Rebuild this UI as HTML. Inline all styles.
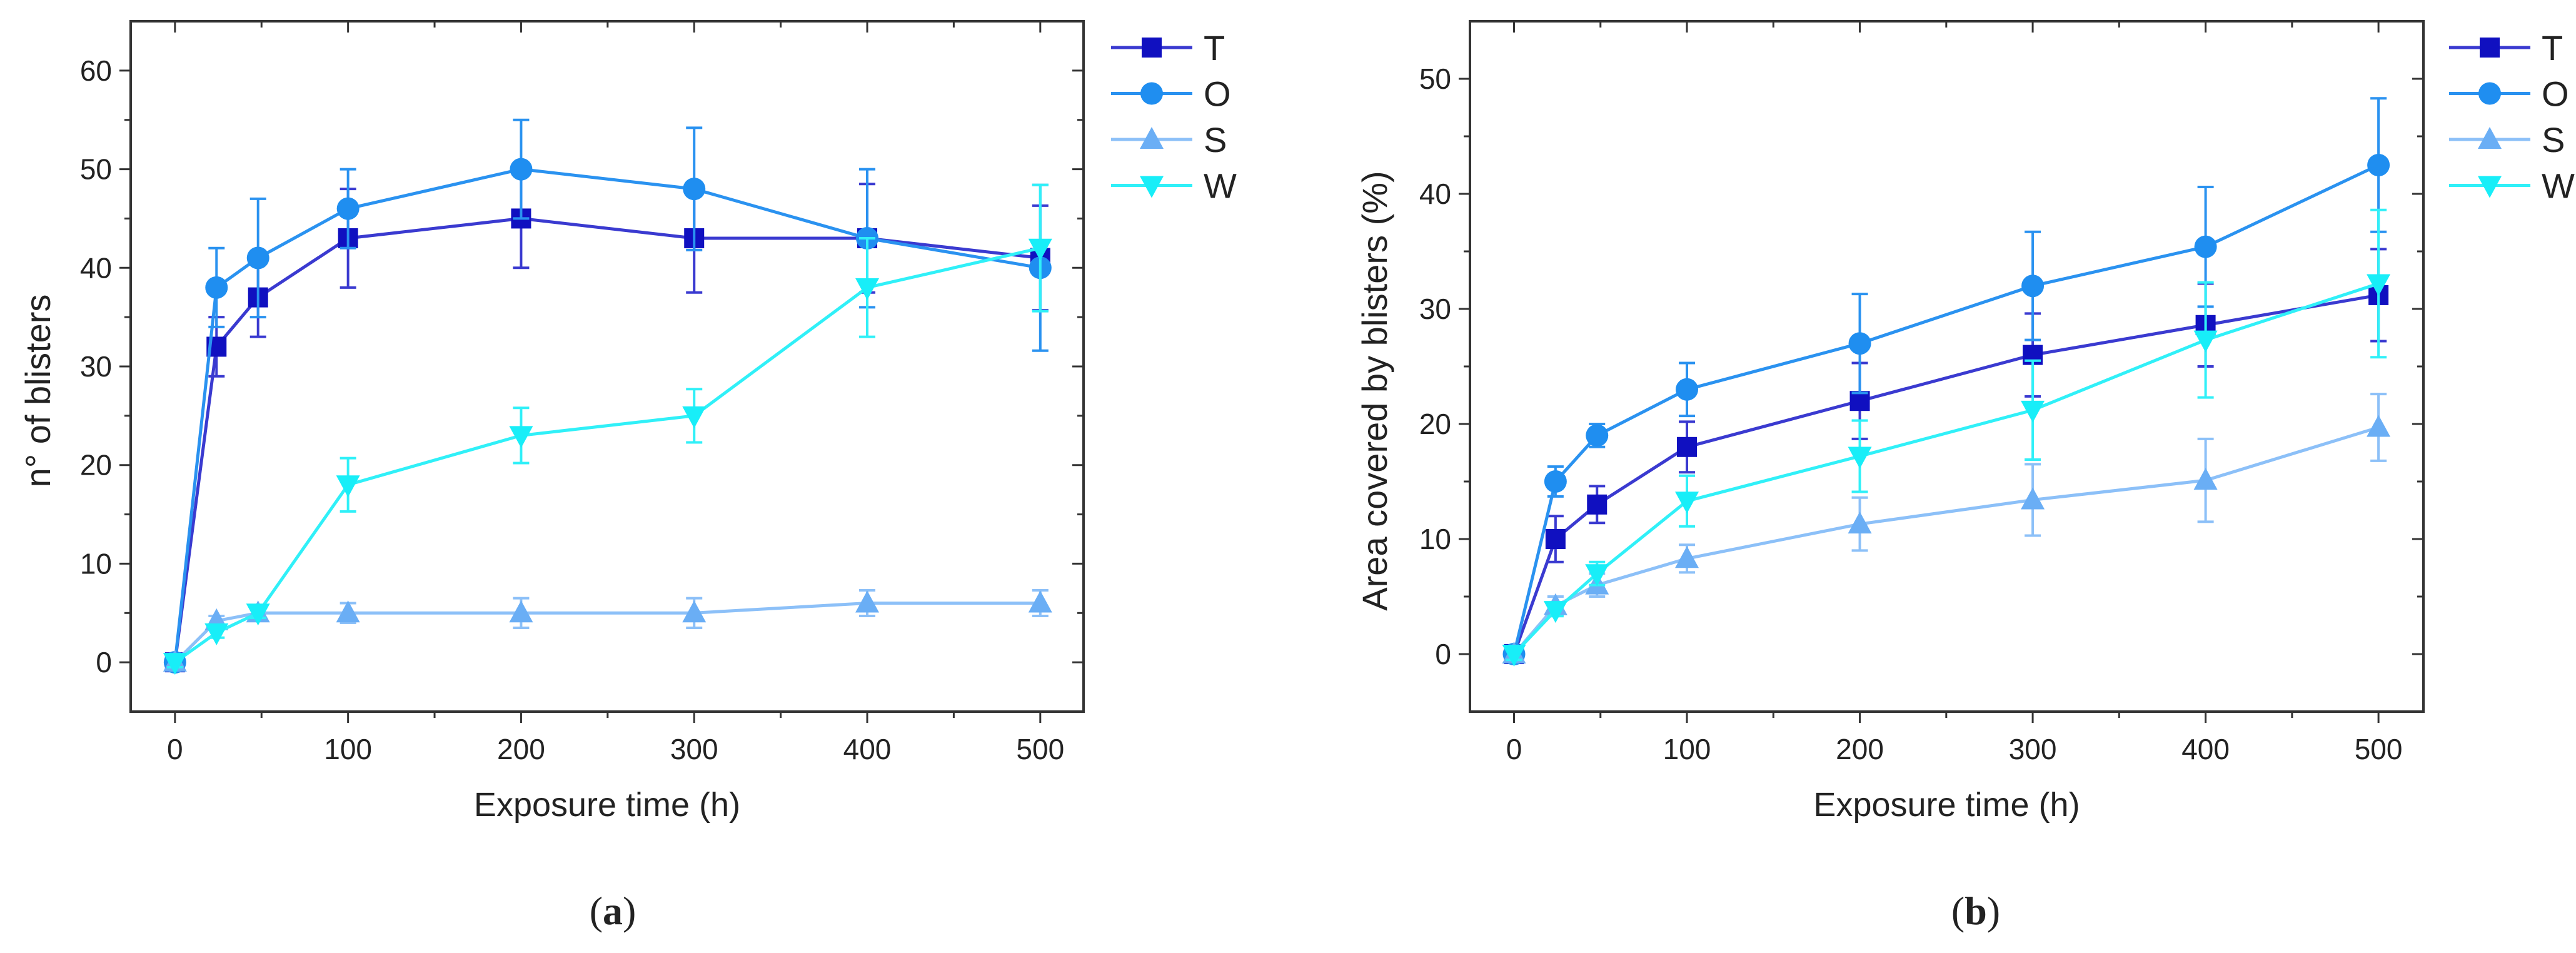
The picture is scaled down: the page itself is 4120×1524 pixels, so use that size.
<!DOCTYPE html>
<html><head><meta charset="utf-8"><style>
html,body{margin:0;padding:0;background:#fff}
svg{display:block}
text{font-family:"Liberation Sans",sans-serif;fill:#222}
</style></head><body>
<svg id="svg" width="4120" height="1524" viewBox="0 0 4120 1524" xmlns="http://www.w3.org/2000/svg"></svg>
<script>
const xVals=[0,24,48,100,200,300,400,500];
const xTicks=[0,100,200,300,400,500];
const seriesNames=["T","O","S","W"];
const aT=[0,32,37,43,45,43,43,41], aTe=[0.5,3,4,5,5,5.5,5.5,5.3];
const aO=[0,38,41,46,50,48,43,40], aOe=[0.5,4,6,4,5,6.2,7,8.4];
const aS=[0,4.2,5,5,5,5,6,6], aSe=[0.5,0.5,0.5,1,1.5,1.5,1.3,1.3];
const aW=[0,3,5,18,23,25,38,42], aWe=[0.5,0.5,0.5,2.7,2.8,2.7,5,6.4];
const aYTicks=[0,10,20,30,40,50,60];
const bT=[0,10,13,18,22,26,28.6,31.2], bTe=[0.5,2,1.6,2.2,3.3,3.6,3.6,4];
const bO=[0,15,19,23,27,32,35.4,42.5], bOe=[0.5,1.3,1,2.3,4.3,4.7,5.2,5.8];
const bS=[0,4.2,6,8.3,11.3,13.4,15.1,19.7], bSe=[0.5,0.8,1,1.2,2.3,3.1,3.6,2.9];
const bW=[0,3.8,7,13.3,17.2,21.2,27.3,32.2], bWe=[0.5,0.5,1,2.2,3.1,4.3,5,6.4];
const bYTicks=[0,10,20,30,40,50];

const NS="http://www.w3.org/2000/svg";
const svg=document.getElementById('svg');
const colors=["#1010c0","#1f8ef0","#6aaef5","#18eef8"];
const lineColors=["#3a3ad0","#2a92f0","#8cc0f8","#30f0f8"];
const markers=["square","circle","up","down"];
function el(tag,attrs,parent){const e=document.createElementNS(NS,tag);for(const k in attrs)e.setAttribute(k,attrs[k]);(parent||svg).appendChild(e);return e;}
function marker(g,type,cx,cy,col){
  const s=16;
  if(type==="square")return el('rect',{x:cx-s,y:cy-s,width:2*s,height:2*s,fill:col},g);
  if(type==="circle")return el('circle',{cx:cx,cy:cy,r:s+2,fill:col},g);
  if(type==="up")return el('polygon',{points:`${cx},${cy-s-4} ${cx-s-3},${cy+s-1} ${cx+s+3},${cy+s-1}`,fill:col},g);
  return el('polygon',{points:`${cx},${cy+s+4} ${cx-s-3},${cy-s+1} ${cx+s+3},${cy-s+1}`,fill:col},g);
}
function chart(o){
  const g=el('g',{});
  
  
  const X=v=>o.x0+(v-o.xmin)/(o.xmax-o.xmin)*(o.x1-o.x0);
  const Y=v=>o.y1-(v-o.ymin)/(o.ymax-o.ymin)*(o.y1-o.y0);
  const fr=el('rect',{x:o.x0,y:o.y0,width:o.x1-o.x0,height:o.y1-o.y0,fill:'none',stroke:'#333','stroke-width':4},g);
  
  for(let v=0;v<=500;v+=50){
    const major=v%100===0, L=major?18:10, x=X(v);
    el('line',{x1:x,y1:o.y1,x2:x,y2:o.y1+L,stroke:'#333','stroke-width':3},g);
    el('line',{x1:x,y1:o.y0,x2:x,y2:o.y0+L,stroke:'#333','stroke-width':3},g);
  }
  xTicks.forEach(v=>{const t=el('text',{x:X(v),y:o.y1+76,'font-size':46,'text-anchor':'middle'},g);t.textContent=v;
    });
  for(let v=o.ymin;v<=o.ymax;v+=5){
    if(v===o.ymin||v===o.ymax)continue;
    const major=v%10===0,L=major?18:10,y=Y(v);
    el('line',{x1:o.x0-L,y1:y,x2:o.x0,y2:y,stroke:'#333','stroke-width':3},g);
    el('line',{x1:o.x1-L,y1:y,x2:o.x1,y2:y,stroke:'#333','stroke-width':3},g);
  }
  o.yTicks.forEach(v=>{const t=el('text',{x:o.x0-30,y:Y(v)+16,'font-size':46,'text-anchor':'end'},g);t.textContent=v;
    });
  const xt=el('text',{x:(o.x0+o.x1)/2,y:1305,'font-size':54,'text-anchor':'middle'},g);xt.textContent="Exposure time (h)";
  
  const yt=el('text',{x:0,y:0,'font-size':56,'text-anchor':'middle',transform:`translate(${o.ylx},${o.yly}) rotate(-90)`},g);yt.textContent=o.ylabel;
  
  o.series.forEach((s,i)=>{
    const sg=el('g',{},g);
    
    
    s.v.forEach((v,j)=>{const x=X(xVals[j]);const a=Y(v+s.e[j]),b=Y(v-s.e[j]);
      el('line',{x1:x,y1:a,x2:x,y2:b,stroke:lineColors[i],'stroke-width':4},sg);
      el('line',{x1:x-13,y1:a,x2:x+13,y2:a,stroke:lineColors[i],'stroke-width':4},sg);
      el('line',{x1:x-13,y1:b,x2:x+13,y2:b,stroke:lineColors[i],'stroke-width':4},sg);});
    el('polyline',{points:s.v.map((v,j)=>X(xVals[j])+','+Y(v)).join(' '),fill:'none',stroke:lineColors[i],'stroke-width':5},sg);
    s.v.forEach((v,j)=>{const m=marker(sg,markers[i],X(xVals[j]),Y(v),colors[i]);
      });
  });
  const lg=el('g',{},g);
  
  seriesNames.forEach((n,i)=>{const y=76+i*73.5;
    const eg=el('g',{},lg);
    
    el('line',{x1:o.lx,y1:y,x2:o.lx+130,y2:y,stroke:lineColors[i],'stroke-width':5},eg);
    marker(eg,markers[i],o.lx+65,y,colors[i]);
    const t=el('text',{x:o.lx+148,y:y+20,'font-size':56},eg);t.textContent=n;});
  const c=el('text',{x:o.capX,y:1478,'font-size':64,'text-anchor':'middle',style:'font-family:"Liberation Serif",serif'},g);
  c.innerHTML='(<tspan font-weight="bold">'+o.cap+'</tspan>)';
  
}
chart({name:'chart-a',x0:209,x1:1733,y0:34,y1:1138,xmin:-25.6,xmax:525,ymin:-5,ymax:65,yTicks:aYTicks,
  ylabel:'n° of blisters',ylx:80,yly:625,lx:1777,capX:980,cap:'a',
  series:[{v:aT,e:aTe},{v:aO,e:aOe},{v:aS,e:aSe},{v:aW,e:aWe}]});
chart({name:'chart-b',x0:2351,x1:3876,y0:34,y1:1138,xmin:-25.5,xmax:526,ymin:-5,ymax:55,yTicks:bYTicks,
  ylabel:'Area covered by blisters (%)',ylx:2218,yly:625,lx:3917,capX:3160,cap:'b',
  series:[{v:bT,e:bTe},{v:bO,e:bOe},{v:bS,e:bSe},{v:bW,e:bWe}]});
</script>
</body></html>
